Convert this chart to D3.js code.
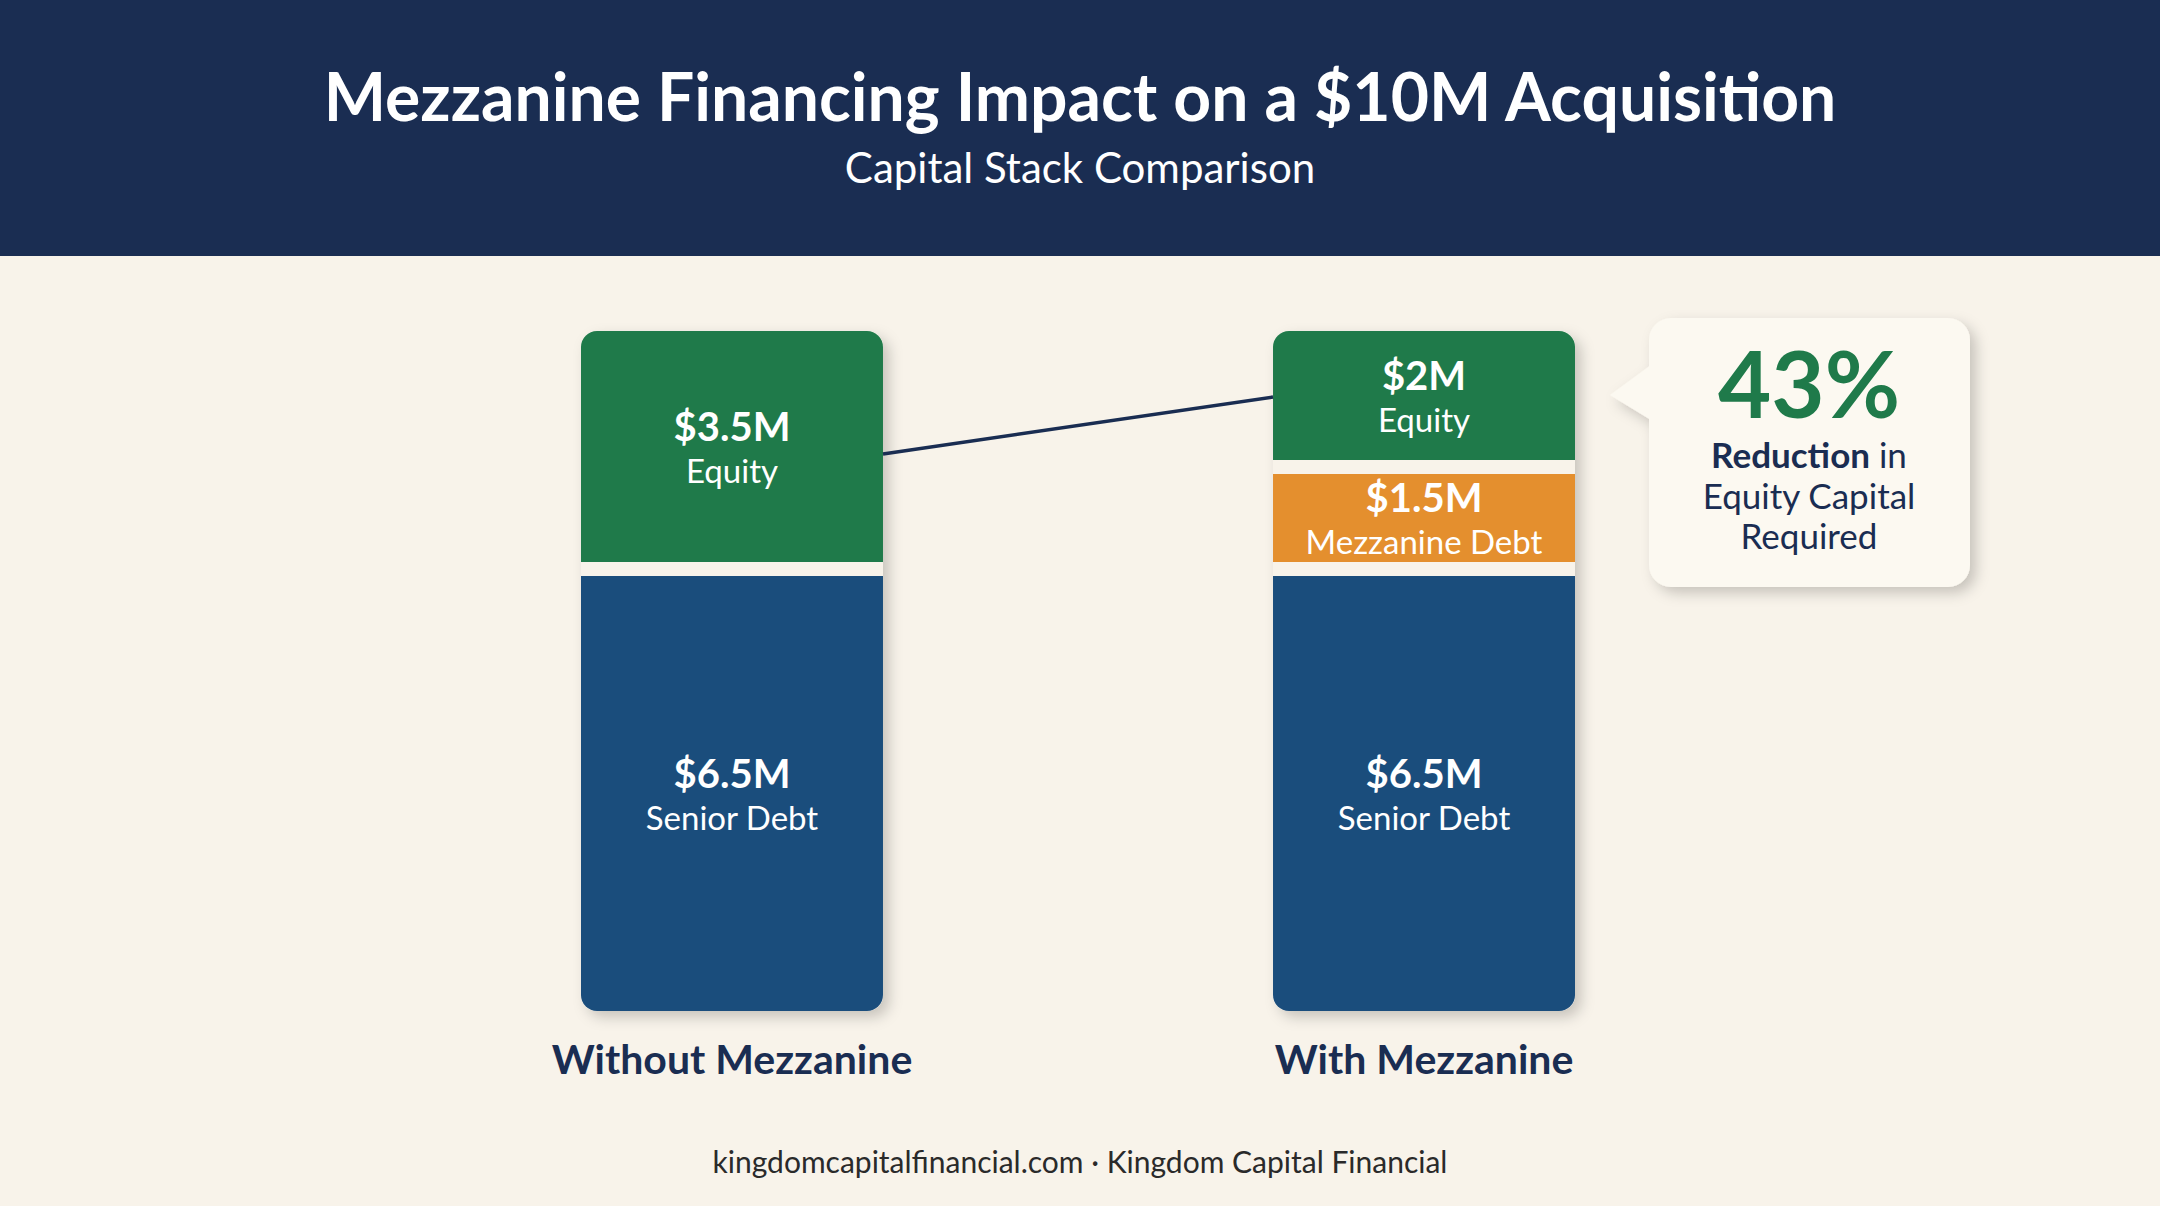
<!DOCTYPE html><html><head><meta charset="utf-8"><script src="https://cdn.jsdelivr.net/npm/d3@7"></script>
<style>body{margin:0;background:#f8f3ea}svg{display:block}</style></head><body><svg id="c" width="2160" height="1206"></svg>
<script>
const categories=["Without Mezzanine","With Mezzanine"];
const seniorDebt=[6.5,6.5];
const mezzanineDebt=[0,1.5];
const equity=[3.5,2];
const segLabels=[["$6.5M","$3.5M"],["$6.5M","$1.5M","$2M"]];
const segNames=[["Senior Debt","Equity"],["Senior Debt","Mezzanine Debt","Equity"]];
const callout={value:"43%",lines:["Reduction in","Equity Capital","Required"]};

const svg=d3.select("#c"),F="Lato, 'Open Sans', sans-serif";
svg.append("rect").attr("width",2160).attr("height",1206).attr("fill","#f8f3ea");
svg.append("rect").attr("width",2160).attr("height",256).attr("fill","#1a2d52");
svg.append("text").attr("x",1080).attr("y",121).attr("text-anchor","middle").attr("fill","#fff").attr("font-family",F).attr("font-weight",700).attr("font-size",66).text("Mezzanine Financing Impact on a $10M Acquisition");
svg.append("text").attr("x",1080).attr("y",183).attr("text-anchor","middle").attr("fill","#fff").attr("font-family",F).attr("font-size",42).text("Capital Stack Comparison");

const x=d3.scaleBand().domain(categories).range([581,1575]).paddingInner(0.5636).paddingOuter(0);
const y=d3.scaleLinear().domain([0,10]).range([1011,331]);
const defs=svg.append("defs");
const f=defs.append("filter").attr("id","sh").attr("x","-20%").attr("y","-20%").attr("width","150%").attr("height","150%");
f.append("feDropShadow").attr("dx",6).attr("dy",6).attr("stdDeviation",7).attr("flood-color","#000").attr("flood-opacity",0.2);
const colors={"Senior Debt":"#1a4d7c","Mezzanine Debt":"#e48f2e","Equity":"#1f7a4a"};
const gap=14;
categories.forEach((c,i)=>{
  const vals=i===0?[seniorDebt[i],equity[i]]:[seniorDebt[i],mezzanineDebt[i],equity[i]];
  const bx=x(c),bw=x.bandwidth();
  const cid="clip"+i;
  defs.append("clipPath").attr("id",cid).append("rect").attr("x",bx).attr("y",y(10)).attr("width",bw).attr("height",y(0)-y(10)).attr("rx",16);
  svg.append("rect").attr("x",bx).attr("y",y(10)).attr("width",bw).attr("height",y(0)-y(10)).attr("rx",16).attr("fill","#f8f3ea").attr("filter","url(#sh)");
  const g=svg.append("g").attr("clip-path",`url(#${cid})`);
  let cum=0;
  vals.forEach((v,k)=>{
    const y0=y(cum),y1=y(cum+v);cum+=v;
    const top=y1+(cum<10?gap/2:0);
    const bot=y0-(k>0?gap/2:0);
    const name=segNames[i][k];
    g.append("rect").attr("x",bx).attr("y",top).attr("width",bw).attr("height",bot-top).attr("fill",colors[name]);
    const cy=(top+bot)/2;
    svg.append("text").attr("x",bx+bw/2).attr("y",cy-6).attr("text-anchor","middle").attr("fill","#fff").attr("font-family",F).attr("font-weight",700).attr("font-size",40).text(segLabels[i][k]);
    svg.append("text").attr("x",bx+bw/2).attr("y",cy+36).attr("text-anchor","middle").attr("fill","#fff").attr("font-family",F).attr("font-size",33).text(name);
  });
  svg.append("text").attr("x",bx+bw/2).attr("y",1074).attr("text-anchor","middle").attr("fill","#1a2d52").attr("font-family",F).attr("font-weight",700).attr("font-size",41).text(c);
});
const e0=(y(6.5)+y(10))/2+4, e1=(y(8)+y(10))/2-2;
svg.append("line").attr("x1",x(categories[0])+x.bandwidth()).attr("y1",e0).attr("x2",x(categories[1])).attr("y2",e1).attr("stroke","#1a2d52").attr("stroke-width",3.5);
const cg=svg.append("g").attr("filter","url(#sh)");
cg.append("rect").attr("x",1649).attr("y",318).attr("width",321).attr("height",269).attr("rx",22).attr("fill","#fcf9f1");
cg.append("path").attr("d","M1651,365 L1610,395 L1651,420 Z").attr("fill","#fcf9f1");
svg.append("text").attr("x",1809).attr("y",418).attr("text-anchor","middle").attr("fill","#1f7a4a").attr("font-family",F).attr("font-weight",700).attr("font-size",92).text(callout.value);
const t=svg.append("text").attr("x",1809).attr("y",468).attr("text-anchor","middle").attr("fill","#1a2d52").attr("font-family",F).attr("font-size",35);
t.append("tspan").attr("font-weight",700).text("Reduction");t.append("tspan").text(" in");
svg.append("text").attr("x",1809).attr("y",509).attr("text-anchor","middle").attr("fill","#1a2d52").attr("font-family",F).attr("font-size",35).text(callout.lines[1]);
svg.append("text").attr("x",1809).attr("y",549).attr("text-anchor","middle").attr("fill","#1a2d52").attr("font-family",F).attr("font-size",35).text(callout.lines[2]);
svg.append("text").attr("x",1080).attr("y",1173).attr("text-anchor","middle").attr("fill","#2a2a2a").attr("font-family",F).attr("font-size",30).text("kingdomcapitalfinancial.com · Kingdom Capital Financial");
</script></body></html>
